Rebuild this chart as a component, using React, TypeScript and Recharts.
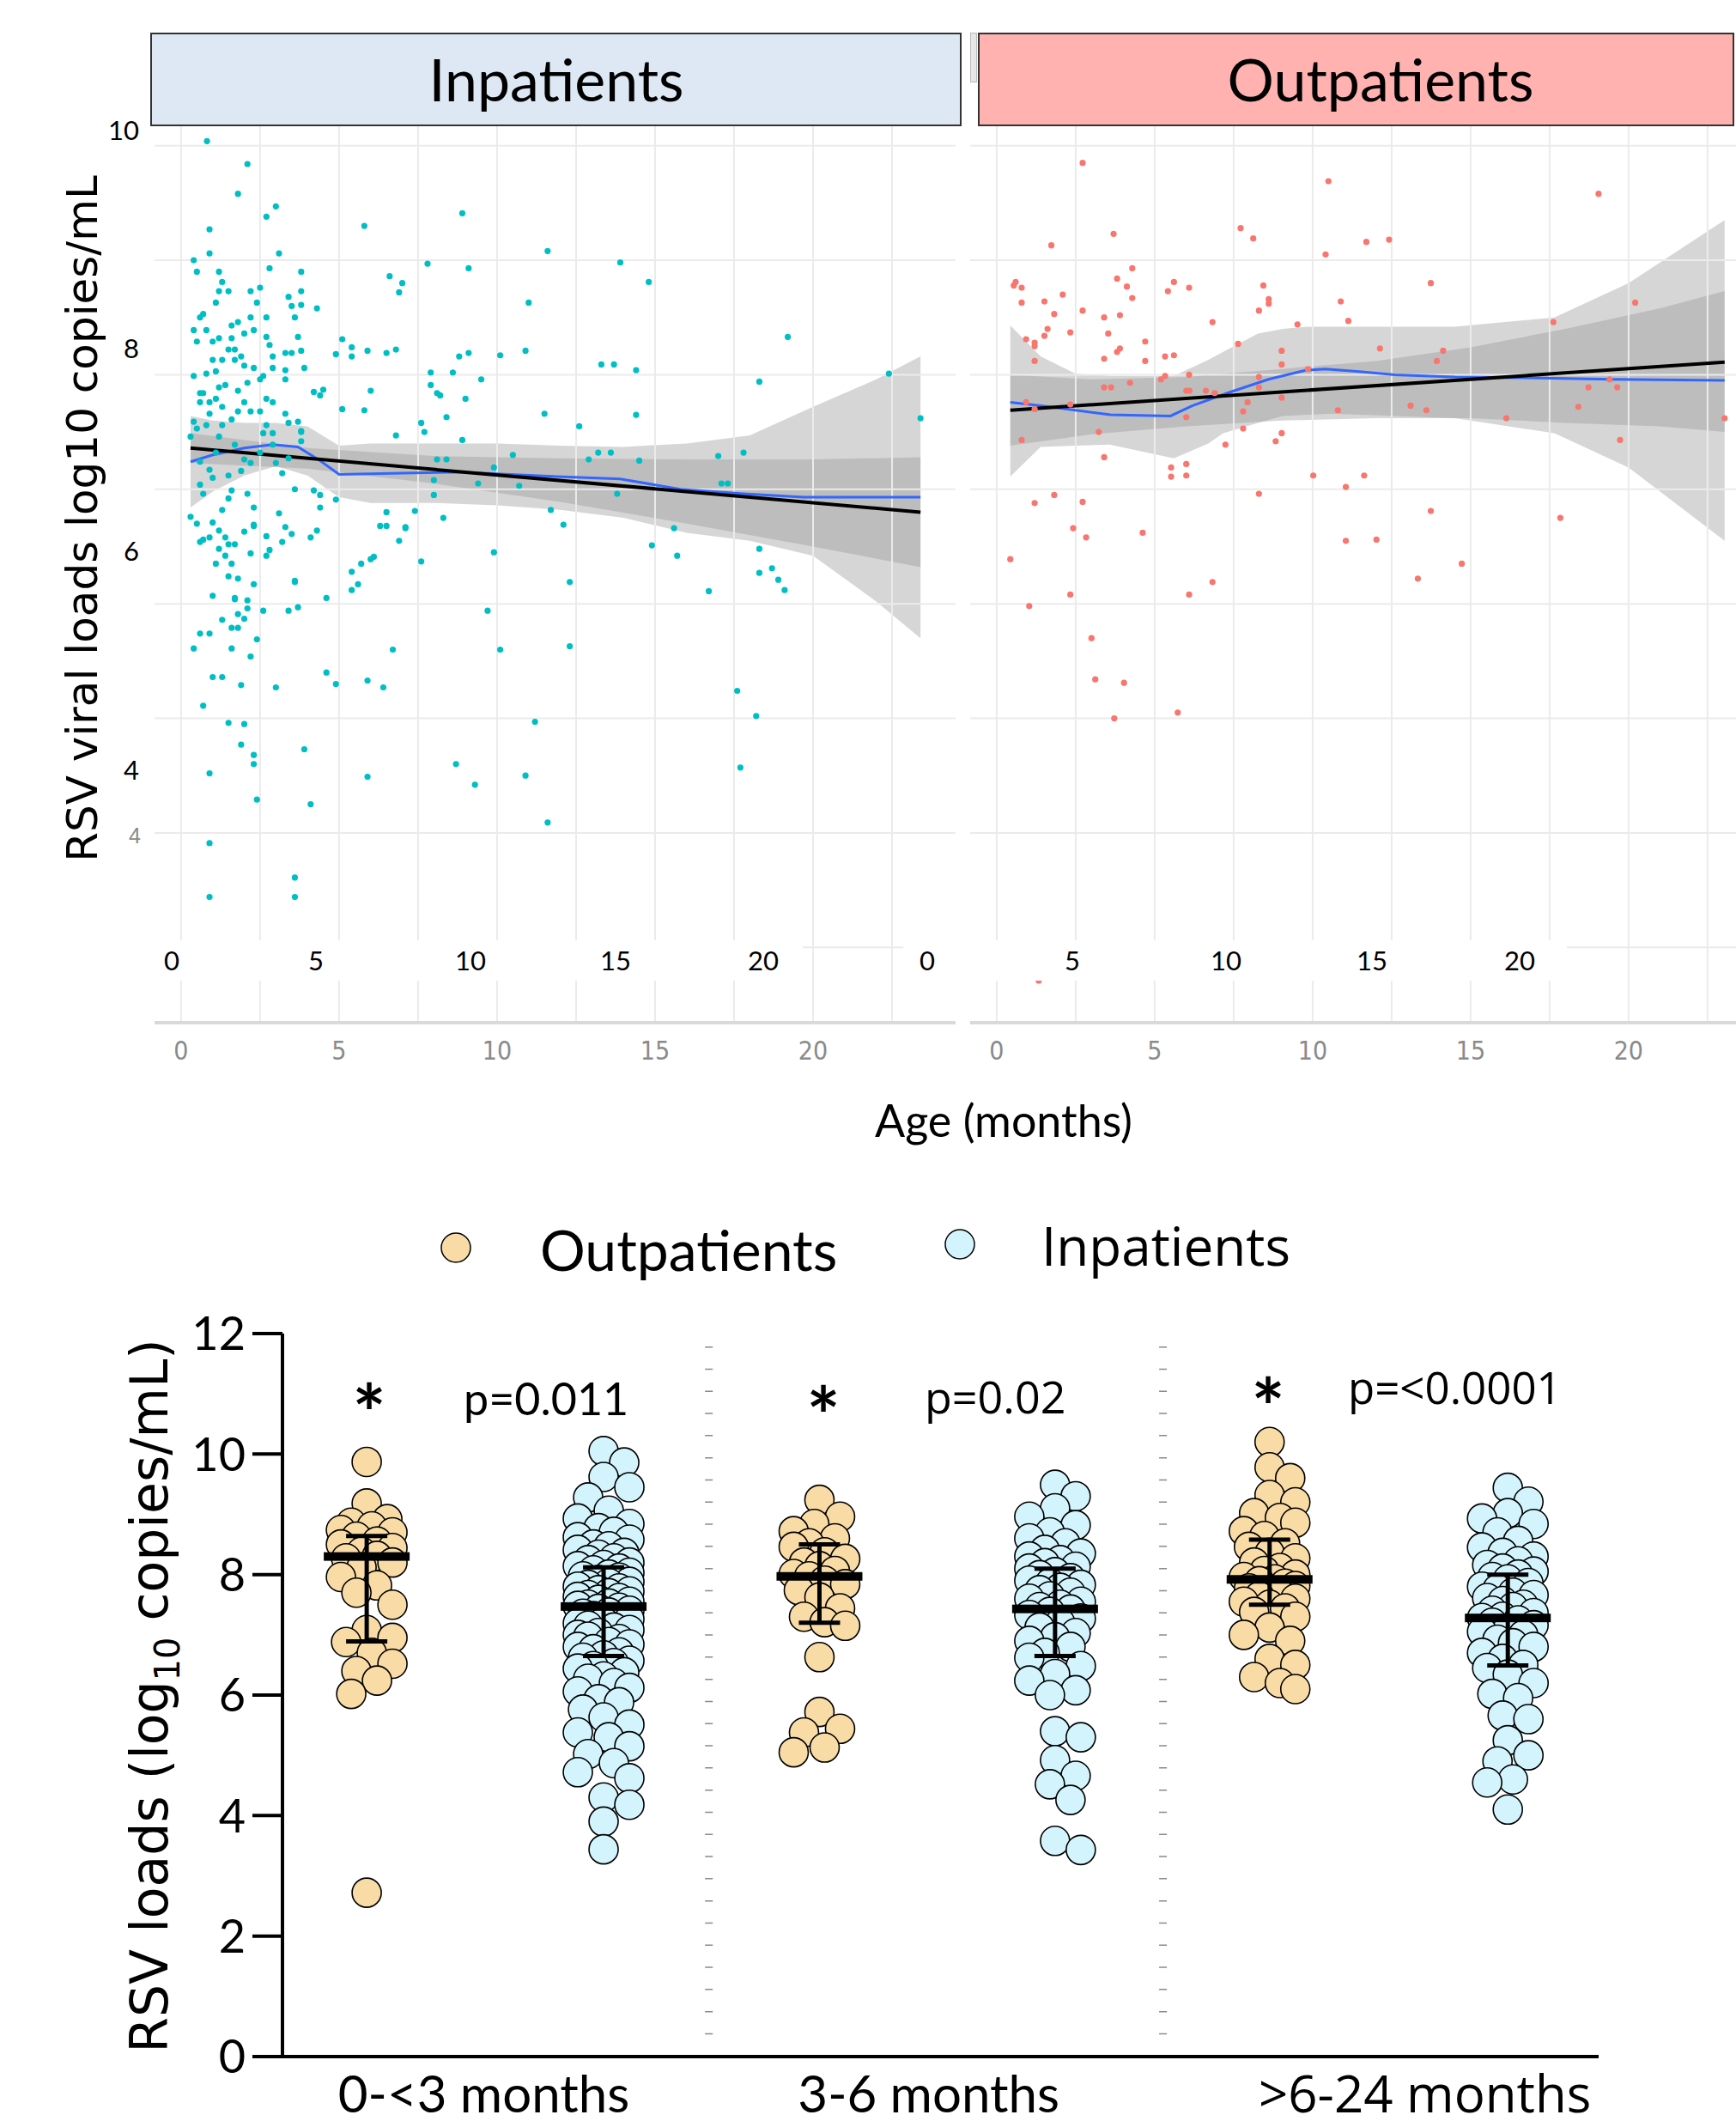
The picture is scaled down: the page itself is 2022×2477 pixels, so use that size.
import React from 'react';
import {
  ComposedChart,
  Scatter,
  Line,
  Area,
  XAxis,
  YAxis,
  ReferenceLine,
  ErrorBar,
} from 'recharts';

type Pt = [number, number];
type Band = [number, number, number];

// ---------- top panel: viral load vs age (months) ----------
const inpatientPoints: Pt[] = [
  [0.82, 10.04], [2.1, 9.84], [1.8, 9.58], [3.0, 9.47], [2.7, 9.38], [0.9, 9.27], [5.8, 9.3], [8.9, 9.41],
  [11.6, 9.08], [13.9, 8.98], [14.8, 8.81], [7.8, 8.97], [9.1, 8.93], [0.4, 9.0], [0.9, 9.06], [0.5, 8.9],
  [3.1, 9.06], [2.8, 8.93], [3.8, 8.9], [6.6, 8.86], [7.0, 8.8], [6.9, 8.72], [11.0, 8.63], [19.2, 8.33],
  [22.4, 8.01], [23.4, 7.62], [18.3, 7.94], [13.3, 8.09], [13.7, 8.09], [14.4, 8.04], [10.1, 8.17], [10.9, 8.21],
  [8.8, 8.16], [9.1, 8.19], [7.9, 8.02], [8.6, 8.02], [9.5, 7.96], [7.9, 7.91], [8.1, 7.84], [8.2, 7.82],
  [9.0, 7.79], [8.4, 7.63], [11.5, 7.66], [12.6, 7.55], [14.4, 7.65], [5.1, 8.31], [4.9, 8.18], [5.4, 8.24],
  [5.4, 8.16], [5.9, 8.21], [6.5, 8.19], [6.8, 8.22], [6.0, 7.86], [5.1, 7.7], [5.8, 7.69], [4.2, 7.85],
  [4.5, 7.87], [4.4, 7.82], [3.9, 8.06], [4.3, 8.58], [3.8, 8.73],
  [7.6, 7.58], [7.7, 7.5], [6.8, 7.47], [8.9, 7.43], [8.1, 7.26], [8.4, 7.26], [10.5, 7.3], [9.9, 7.19],
  [9.4, 7.05], [10.7, 7.03], [12.9, 7.26], [13.2, 7.32], [13.6, 7.32], [14.5, 7.25], [17.0, 7.29], [17.8, 7.32],
  [17.1, 7.05], [17.3, 7.05], [13.8, 6.96], [8.0, 7.08], [8.0, 6.95], [8.3, 6.75], [7.4, 6.81], [6.5, 6.8],
  [6.3, 6.68], [6.5, 6.68], [7.1, 6.66], [6.9, 6.55], [7.6, 6.37], [11.7, 6.82], [12.1, 6.69], [15.6, 6.66],
  [14.9, 6.51], [15.7, 6.42], [9.9, 6.45], [12.3, 6.19], [16.7, 6.11], [18.3, 6.48], [18.3, 6.27], [18.7, 6.31],
  [18.9, 6.21], [19.1, 6.12], [5.7, 6.35], [6.0, 6.39], [5.4, 6.28], [5.6, 6.17], [5.4, 6.12], [6.1, 6.41],
  [4.6, 6.05], [3.6, 6.19], [1.0, 6.07], [1.7, 6.05], [2.1, 6.03],
  [9.7, 5.94], [10.1, 5.6], [12.3, 5.63], [17.6, 5.24], [18.2, 5.02], [17.7, 4.57], [11.2, 4.97], [8.7, 4.6],
  [9.3, 4.42], [10.9, 4.5], [11.6, 4.09], [6.7, 5.6], [4.6, 5.4], [4.9, 5.3], [5.9, 5.33], [6.4, 5.27],
  [5.9, 4.49], [3.9, 4.73], [4.1, 4.25], [3.6, 3.61], [3.6, 3.44], [0.9, 3.91], [0.9, 3.44], [0.9, 4.52],
  [2.4, 4.29], [1.9, 4.77], [2.3, 4.68], [2.3, 4.6], [1.5, 4.96], [2.0, 4.95], [0.7, 5.11], [1.0, 5.36],
  [1.3, 5.36], [1.9, 5.29], [3.0, 5.27], [0.4, 5.61], [0.6, 5.74], [0.9, 5.74], [1.6, 5.61], [2.2, 5.54],
  [2.4, 5.69], [1.3, 5.86], [1.6, 5.79], [1.8, 5.79], [1.8, 5.91], [2.0, 5.87], [2.1, 5.96], [2.6, 5.94],
  [3.4, 5.94], [3.7, 5.97], [1.7, 6.04], [1.5, 6.24], [1.8, 6.22], [2.3, 6.17], [3.6, 6.2], [1.1, 6.35],
  [1.6, 6.35], [1.4, 6.42], [1.2, 6.48], [1.7, 6.52], [2.2, 6.44], [2.7, 6.42], [2.8, 6.47], [3.2, 6.54],
  [4.1, 6.58], [4.3, 6.64], [3.5, 6.61], [3.3, 6.67], [0.6, 6.54], [0.7, 6.56], [0.9, 6.58], [1.4, 6.58],
  [2.0, 6.63], [2.3, 6.68], [2.7, 6.59], [0.3, 6.76], [0.5, 6.7], [1.0, 6.71], [7.1, 6.67],
  [1.2, 6.64], [1.5, 6.52], [2.3, 6.69], [3.1, 6.79], [3.6, 7.0], [4.2, 6.99], [4.4, 6.95], [4.4, 6.84],
  [4.9, 6.91], [0.3, 7.46], [0.5, 7.53], [0.6, 7.24], [0.6, 7.04], [0.7, 6.96], [0.9, 7.17], [1.0, 7.1],
  [1.1, 7.32], [1.2, 7.46], [1.3, 7.56], [1.5, 7.12], [1.6, 6.99], [1.5, 6.92], [1.3, 6.82], [1.7, 7.39],
  [1.9, 7.16], [2.0, 7.26], [2.2, 7.23], [2.1, 6.96], [2.3, 6.84], [2.5, 7.32], [2.6, 7.49], [2.9, 7.39],
  [3.0, 7.23], [3.2, 7.14], [3.4, 7.27], [3.8, 7.51], [3.7, 7.59], [3.8, 7.42], [3.3, 7.66], [2.9, 7.76],
  [2.7, 7.79], [2.5, 7.68], [2.2, 7.68], [2.0, 7.76], [1.8, 7.68], [1.6, 7.61], [1.3, 7.72], [1.1, 7.79],
  [0.9, 7.76], [0.6, 7.76], [0.6, 7.84], [0.7, 7.84], [0.9, 7.66], [0.4, 7.59], [0.8, 7.56], [2.9, 7.49],
  [2.7, 7.56], [3.4, 7.58], [3.8, 7.5],
  [0.4, 7.99], [0.8, 8.01], [1.1, 8.03], [1.0, 8.13], [1.0, 8.29], [0.8, 8.39], [0.6, 8.5], [0.7, 8.53],
  [1.1, 8.63], [1.2, 8.73], [1.2, 8.9], [1.3, 8.81], [1.5, 8.73], [1.6, 8.43], [1.8, 8.46], [2.0, 8.36],
  [2.2, 8.5], [2.3, 8.39], [1.6, 8.32], [1.7, 8.22], [1.9, 8.16], [1.2, 8.32], [1.3, 8.13], [1.5, 8.22],
  [1.7, 8.13], [2.0, 8.08], [2.2, 8.73], [2.5, 8.76], [2.4, 8.63], [2.7, 8.5], [2.7, 8.33], [2.9, 8.16],
  [2.8, 8.26], [2.5, 7.96], [2.6, 7.99], [2.9, 8.06], [3.3, 8.04], [3.3, 8.19], [3.5, 8.19], [3.7, 8.33],
  [3.8, 8.21], [3.6, 8.5], [3.5, 8.6], [3.4, 8.68], [3.8, 8.61], [3.3, 7.96], [2.3, 8.06], [2.1, 7.93],
  [1.8, 7.86], [1.4, 7.91], [1.2, 7.89], [0.5, 8.29], [0.4, 8.39],
];

const outpatientPoints: Pt[] = [
  [2.72, 9.85], [10.5, 9.69], [19.05, 9.58], [7.72, 9.28], [8.12, 9.19], [3.7, 9.23], [1.73, 9.13], [10.41, 9.05],
  [11.7, 9.16], [12.42, 9.18], [4.29, 8.93], [0.54, 8.78], [0.6, 8.81], [0.79, 8.76], [0.79, 8.63], [1.51, 8.64],
  [2.09, 8.7], [1.82, 8.53], [3.81, 8.84], [4.12, 8.77], [4.29, 8.67], [2.72, 8.56], [3.4, 8.5], [3.9, 8.52],
  [5.61, 8.81], [5.42, 8.73], [6.09, 8.76], [8.44, 8.78], [8.61, 8.66], [8.61, 8.62], [8.3, 8.56], [6.83, 8.46],
  [9.52, 8.44], [10.89, 8.64], [11.13, 8.47], [13.74, 8.8], [20.21, 8.63], [17.62, 8.46], [0.93, 8.31], [1.2, 8.28],
  [1.2, 8.25], [1.61, 8.4], [1.51, 8.34], [2.33, 8.37], [3.53, 8.36], [4.7, 8.29], [1.2, 8.12], [3.4, 8.14],
  [3.81, 8.2], [3.9, 8.23], [4.7, 8.12], [5.33, 8.16], [5.61, 8.17], [7.64, 8.27], [9.02, 8.21], [9.02, 8.09],
  [12.13, 8.23], [14.13, 8.21], [13.93, 8.12], [5.2, 7.96], [5.33, 7.99], [6.09, 8.0], [3.4, 7.89], [3.62, 7.89],
  [4.22, 7.93], [6.0, 7.86], [6.1, 7.86], [6.62, 7.86], [6.9, 7.84], [8.3, 7.98], [8.3, 7.89], [9.02, 7.8],
  [9.85, 8.05], [0.93, 7.76], [1.2, 7.7], [2.33, 7.74], [6.0, 7.63], [7.94, 7.76], [7.8, 7.68], [7.8, 7.53],
  [9.02, 7.49], [8.83, 7.42], [7.24, 7.39], [10.8, 7.69], [13.1, 7.73], [13.6, 7.69], [16.13, 7.62], [18.41, 7.72],
  [18.73, 7.89], [19.4, 7.96], [19.64, 7.89], [23.04, 7.62], [19.73, 7.43], [0.79, 7.43], [3.23, 7.5], [3.4, 7.28],
  [5.52, 7.19], [5.52, 7.11], [6.0, 7.22], [6.0, 7.12], [10.02, 7.12], [11.63, 7.12], [11.05, 7.02], [8.3, 6.96],
  [1.2, 6.88], [1.82, 6.95], [2.72, 6.89], [13.74, 6.81], [17.84, 6.75], [2.42, 6.66], [2.83, 6.58], [4.62, 6.62],
  [11.05, 6.55], [12.02, 6.56], [0.43, 6.39], [14.72, 6.35], [6.83, 6.19], [13.33, 6.22], [2.33, 6.08], [6.09, 6.08],
  [1.03, 5.98], [3.0, 5.7], [3.12, 5.34], [4.03, 5.31], [3.72, 5.0], [5.73, 5.05], [1.33, 2.71],
];

const inpatientLinear: Pt[] = [[0.3, 7.36], [23.4, 6.8]];
const inpatientLoess: Pt[] = [
  [0.3, 7.24], [1.0, 7.3], [2.0, 7.36], [2.9, 7.39], [3.7, 7.37], [4.4, 7.25], [5.0, 7.13], [7.0, 7.14],
  [8.8, 7.15], [11.9, 7.11], [13.9, 7.09], [15.8, 7.0], [17.8, 6.96], [19.7, 6.93], [23.4, 6.93],
];
const inpatientLinearBand: Band[] = [
  [0.3, 7.23, 7.49], [4, 7.18, 7.36], [8, 7.05, 7.29], [12, 6.89, 7.27], [16, 6.7, 7.26], [20, 6.5, 7.26], [23.4, 6.32, 7.28],
];
const inpatientLoessBand: Band[] = [
  [0.3, 6.84, 7.64], [1, 6.98, 7.6], [2, 7.12, 7.58], [3, 7.2, 7.58], [4, 7.12, 7.55], [5, 6.93, 7.38],
  [6, 6.88, 7.4], [8, 6.88, 7.4], [10, 6.86, 7.4], [12, 6.82, 7.38], [14, 6.75, 7.37], [16, 6.62, 7.4],
  [18, 6.55, 7.47], [20, 6.42, 7.72], [22, 6.02, 7.96], [23.4, 5.7, 8.16],
];

const outpatientLinear: Pt[] = [[0.43, 7.69], [23.04, 8.11]];
const outpatientLoess: Pt[] = [
  [0.43, 7.76], [1.4, 7.73], [2.5, 7.69], [3.6, 7.65], [5.5, 7.64], [6.2, 7.73], [7.3, 7.84], [8.6, 7.96],
  [9.8, 8.04], [10.4, 8.05], [11.4, 8.03], [12.6, 8.0], [14.5, 7.98], [17.6, 7.97], [19.5, 7.96], [23.04, 7.95],
];
const outpatientLinearBand: Band[] = [
  [0.43, 7.38, 8.0], [3, 7.48, 7.96], [6, 7.55, 7.98], [9, 7.6, 8.05], [12, 7.62, 8.12], [15, 7.62, 8.24],
  [18, 7.58, 8.4], [21, 7.55, 8.58], [23.04, 7.5, 8.73],
];
const outpatientLoessBand: Band[] = [
  [0.43, 7.11, 8.43], [1.39, 7.37, 8.16], [2.48, 7.38, 8.01], [3.58, 7.39, 7.99], [5.61, 7.27, 7.99],
  [6.7, 7.4, 8.13], [7.17, 7.49, 8.2], [8.27, 7.58, 8.36], [9.05, 7.64, 8.4], [9.83, 7.65, 8.42],
  [10.6, 7.66, 8.42], [14.5, 7.62, 8.42], [17.65, 7.49, 8.5], [20.0, 7.19, 8.8], [23.04, 6.55, 9.35],
];

const ageTicks = [0, 5, 10, 15, 20];
const gridX = [0, 2.5, 5, 7.5, 10, 12.5, 15, 17.5, 20, 22.5];
const gridY = [3, 4, 5, 6, 7, 8, 9, 10];

// ---------- bottom panel: loads by age group ----------
const groupNames = ['0-<3 months', '3-6 months', '>6-24 months'];
const groupFonts = ['Lato', 'Lato', '"Open Sans"'];
const groupLabelPos = [15.3, 49.1, 86.8];
const separatorPos = [32.4, 66.9];

const out1Loads = [9.87, 9.18, 8.92, 8.86, 8.8, 8.74, 8.7, 8.63, 8.55, 8.5, 8.44, 8.38, 8.31, 8.27, 8.2, 8.12, 7.96, 7.82, 7.7, 7.5, 7.08, 6.95, 6.88, 6.7, 6.52, 6.4, 6.24, 6.02, 2.72];
const in1Loads = [
  10.05, 9.86, 9.62, 9.45, 9.28, 9.06, 8.93, 8.84, 8.77, 8.71, 8.62, 8.58, 8.5, 8.47, 8.41, 8.36, 8.33, 8.27,
  8.24, 8.2, 8.16, 8.14, 8.1, 8.07, 8.03, 8.0, 7.97, 7.95, 7.91, 7.88, 7.86, 7.83, 7.8, 7.77, 7.74, 7.72, 7.69,
  7.66, 7.63, 7.61, 7.58, 7.55, 7.52, 7.5, 7.48, 7.45, 7.43, 7.4, 7.37, 7.35, 7.31, 7.28, 7.26, 7.22, 7.19, 7.15,
  7.12, 7.08, 7.03, 7.0, 6.97, 6.93, 6.88, 6.84, 6.8, 6.76, 6.71, 6.66, 6.62, 6.57, 6.53, 6.48, 6.44, 6.38, 6.31,
  6.27, 6.2, 6.12, 6.06, 5.93, 5.88, 5.76, 5.63, 5.51, 5.38, 5.3, 5.15, 5.02, 4.87, 4.72, 4.62, 4.3, 4.18, 3.9, 3.44,
];
const out2Loads = [9.24, 8.96, 8.84, 8.72, 8.6, 8.52, 8.46, 8.37, 8.26, 8.2, 8.14, 8.06, 8.01, 7.97, 7.9, 7.84, 7.74, 7.62, 7.44, 7.3, 7.21, 7.15, 6.63, 5.72, 5.44, 5.38, 5.13, 5.05];
const in2Loads = [
  9.49, 9.3, 9.1, 8.96, 8.82, 8.7, 8.6, 8.52, 8.41, 8.35, 8.3, 8.24, 8.19, 8.13, 8.1, 8.04, 7.99, 7.94, 7.9, 7.86,
  7.83, 7.78, 7.74, 7.7, 7.64, 7.6, 7.55, 7.5, 7.46, 7.42, 7.38, 7.33, 7.27, 7.2, 7.12, 7.03, 6.96, 6.9, 6.8, 6.7,
  6.62, 6.48, 6.35, 6.24, 6.08, 6.0, 5.4, 5.3, 4.92, 4.66, 4.52, 4.26, 3.58, 3.43,
];
const out3Loads = [10.2, 9.78, 9.6, 9.32, 9.2, 9.02, 8.94, 8.86, 8.72, 8.64, 8.52, 8.46, 8.36, 8.27, 8.2, 8.11, 8.06, 8.0, 7.96, 7.92, 7.89, 7.85, 7.81, 7.77, 7.72, 7.68, 7.64, 7.6, 7.55, 7.5, 7.44, 7.38, 7.3, 7.12, 7.0, 6.9, 6.6, 6.5, 6.3, 6.2, 6.1];
const in3Loads = [
  9.44, 9.21, 9.02, 8.93, 8.84, 8.7, 8.56, 8.45, 8.36, 8.3, 8.22, 8.16, 8.1, 8.05, 8.0, 7.96, 7.92, 7.86, 7.8, 7.76,
  7.7, 7.66, 7.61, 7.56, 7.5, 7.46, 7.4, 7.36, 7.3, 7.28, 7.24, 7.2, 7.16, 7.1, 7.05, 7.0, 6.92, 6.86, 6.8, 6.7, 6.6,
  6.5, 6.45, 6.34, 6.2, 6.02, 5.95, 5.66, 5.6, 5.25, 5.0, 4.9, 4.6, 4.55, 4.1,
];

const columnPos = [6.4, 24.4, 40.8, 58.7, 75.0, 93.1];
const columnLoads = [out1Loads, in1Loads, out2Loads, in2Loads, out3Loads, in3Loads];
const columnIsOut = [true, false, true, false, true, false];
const medians = [8.3, 7.47, 7.97, 7.43, 7.92, 7.28];
const q1s = [6.89, 6.65, 7.2, 6.65, 7.5, 6.49];
const q3s = [8.64, 8.12, 8.5, 8.1, 8.58, 8.0];

const OUT_FILL = '#f9dba6';
const IN_FILL = '#d3f4fd';
const FONT = 'Lato, "Open Sans", sans-serif';

// pixel size of one axis unit in the bottom chart (plot is 1533 x 842 px)
const PX_PER_X = 1533 / 100;
const PX_PER_Y = 842 / 12;

// simple beeswarm: keep circles packed around the column centre
function swarm(values: number[], center: number) {
  const slots = [0, 6, -6, 12, -12, 18, -18, 24, -24, 30, -30];
  const placed: { dx: number; py: number }[] = [];
  return [...values]
    .sort((a, b) => b - a)
    .map((v) => {
      const py = v * PX_PER_Y;
      let best = 0;
      let bestDist = -1;
      for (const s of slots) {
        let d = Infinity;
        for (const p of placed) d = Math.min(d, Math.hypot(p.dx - s, p.py - py));
        if (d >= 27) {
          best = s;
          break;
        }
        if (d > bestDist) {
          bestDist = d;
          best = s;
        }
      }
      placed.push({ dx: best, py });
      return { x: center + best / PX_PER_X, y: v };
    });
}

const toXY = (pts: Pt[]) => pts.map(([x, y]) => ({ x, y }));
const toBand = (rows: Band[]) => rows.map(([x, lo, hi]) => ({ x, ci: [lo, hi] }));

type FacetProps = {
  points: Pt[];
  color: string;
  linear: Pt[];
  loess: Pt[];
  linearBand: Band[];
  loessBand: Band[];
  xMax: number;
  width: number;
  left: number;
  right: number;
};

const Facet: React.FC<FacetProps> = ({ points, color, linear, loess, linearBand, loessBand, xMax, width, left, right }) => (
  <ComposedChart width={width} height={1251} margin={{ top: 147, right, left, bottom: 0 }}>
    <XAxis
      dataKey='x'
      type='number'
      domain={[-0.84, xMax]}
      allowDataOverflow
      ticks={ageTicks}
      interval={0}
      height={60}
      tickSize={0}
      tickMargin={22}
      tickLine={false}
      axisLine={{ stroke: '#d9d9d9', strokeWidth: 4 }}
      tick={{ fill: '#8a8a8a', fontSize: 30, fontFamily: '"Liberation Sans Narrow", "DejaVu Sans Condensed", sans-serif' }}
    />
    <YAxis dataKey='y' type='number' domain={[2.342, 10.17]} allowDataOverflow hide />
    {gridY.map((v) => (
      <ReferenceLine key={'h' + v} y={v} stroke='#ebebeb' strokeWidth={2} />
    ))}
    {gridX.map((v) => (
      <ReferenceLine key={'v' + v} x={v} stroke='#ebebeb' strokeWidth={2} />
    ))}
    <Area data={toBand(loessBand)} dataKey='ci' type='linear' stroke='none' fill='#999999' fillOpacity={0.4} isAnimationActive={false} />
    <Area data={toBand(linearBand)} dataKey='ci' type='linear' stroke='none' fill='#999999' fillOpacity={0.4} isAnimationActive={false} />
    <Scatter
      data={toXY(points)}
      isAnimationActive={false}
      shape={(p: any) => <circle cx={p.cx} cy={p.cy} r={3.6} fill={color} />}
    />
    <Line data={toXY(loess)} dataKey='y' type='linear' stroke='#3366ff' strokeWidth={3} dot={false} isAnimationActive={false} />
    <Line data={toXY(linear)} dataKey='y' type='linear' stroke='#000' strokeWidth={4} dot={false} isAnimationActive={false} />
  </ComposedChart>
);

const GroupTick = (props: any) => {
  const { x, y, payload } = props;
  const i = groupLabelPos.indexOf(payload.value);
  return (
    <text x={x} y={y} dy='0.71em' textAnchor='middle' fontSize={60} fontFamily={groupFonts[i]} fill='#000'>
      {groupNames[i]}
    </text>
  );
};

const summary = columnPos.map((x, i) => ({
  x,
  y: medians[i],
  err: [medians[i] - q1s[i], q3s[i] - medians[i]],
}));

const abs = (l: number, t: number, w: number, h: number): React.CSSProperties => ({
  position: 'absolute',
  left: l,
  top: t,
  width: w,
  height: h,
});

const topYLabels = [
  { t: '10', y: 152 },
  { t: '8', y: 406 },
  { t: '6', y: 642 },
  { t: '4', y: 897 },
];
const inpBandLabels = [
  { t: '0', x: 200 }, { t: '5', x: 368 }, { t: '10', x: 548 }, { t: '15', x: 717 }, { t: '20', x: 889 }, { t: '0', x: 1080 },
];
const outBandLabels = [
  { t: '5', x: 1249 }, { t: '10', x: 1428 }, { t: '15', x: 1598 }, { t: '20', x: 1770 },
];

const DOT_MARGIN = { top: 153, right: 160, left: 0, bottom: 0 };

export default function App() {
  return (
    <div style={{ ...abs(0, 0, 2022, 2477), background: '#fff', overflow: 'hidden', fontFamily: FONT }}>
      {/* facet panels */}
      <div style={abs(0, 0, 1120, 1251)}>
        <Facet
          points={inpatientPoints}
          color='#00bfc4'
          linear={inpatientLinear}
          loess={inpatientLoess}
          linearBand={inpatientLinearBand}
          loessBand={inpatientLoessBand}
          xMax={24.51}
          width={1120}
          left={180}
          right={7}
        />
      </div>
      <div style={abs(1120, 0, 902, 1251)}>
        <Facet
          points={outpatientPoints}
          color='#f8766d'
          linear={outpatientLinear}
          loess={outpatientLoess}
          linearBand={outpatientLinearBand}
          loessBand={outpatientLoessBand}
          xMax={23.4}
          width={902}
          left={10}
          right={0}
        />
      </div>

      {/* white strips carrying the pasted black age labels */}
      <div style={{ ...abs(180, 1095, 755, 47), background: '#fff' }} />
      <div style={{ ...abs(1052, 1095, 62, 47), background: '#fff' }} />
      <div style={{ ...abs(1130, 1095, 695, 47), background: '#fff' }} />

      {/* facet strips */}
      <div style={{ ...abs(175, 38, 945, 109), boxSizing: 'border-box', background: '#dde8f4', border: '2px solid #333' }} />
      <div style={{ ...abs(1130, 38, 8, 58), boxSizing: 'border-box', background: '#e6e6e6', border: '1px solid #bbb' }} />
      <div style={{ ...abs(1139, 38, 881, 109), boxSizing: 'border-box', background: '#ffb2b0', border: '2px solid #333' }} />

      <svg style={{ ...abs(0, 0, 2022, 2477), pointerEvents: 'none' }} width={2022} height={2477}>
        <text x={648} y={118} textAnchor='middle' fontSize={68} fontFamily='Lato'>Inpatients</text>
        <text x={1608} y={118} textAnchor='middle' fontSize={68} fontFamily='Lato'>Outpatients</text>

        {topYLabels.map((d) => (
          <text key={d.y} x={162} y={d.y + 11} textAnchor='end' fontSize={31} fontFamily='Lato'>{d.t}</text>
        ))}
        <text x={164} y={982} textAnchor='end' fontSize={25} fill='#8a8a8a' fontFamily='"Liberation Sans Narrow", sans-serif'>4</text>

        {[...inpBandLabels, ...outBandLabels].map((d, i) => (
          <text key={i} x={d.x} y={1130} textAnchor='middle' fontSize={31} fontFamily='Lato'>{d.t}</text>
        ))}

        <text x={1169} y={1324} textAnchor='middle' fontSize={52} fontFamily='Lato'>Age (months)</text>

        <text
          transform='translate(113,604) rotate(-90)'
          textAnchor='middle'
          fontSize={50}
          fontFamily='"DejaVu Sans", sans-serif'
        >
          RSV viral loads log10 copies/mL
        </text>

        {/* legend */}
        <circle cx={531} cy={1453} r={17} fill={OUT_FILL} stroke='#000' strokeWidth={1.5} />
        <text x={629} y={1480} fontSize={66} fontFamily='Lato'>Outpatients</text>
        <circle cx={1118} cy={1449} r={17} fill={IN_FILL} stroke='#000' strokeWidth={1.5} />
        <text x={1213} y={1474} fontSize={62} fontFamily='"Open Sans"'>Inpatients</text>

        <text
          transform='translate(195,1975) rotate(-90)'
          textAnchor='middle'
          fontSize={60}
          fontFamily='"DejaVu Sans", sans-serif'
        >
          RSV loads (log<tspan fontSize={40} dy={14}>10</tspan>
          <tspan dy={-14}> copies/mL)</tspan>
        </text>

        {/* significance marks */}
        <text x={430} y={1680} textAnchor='middle' fontSize={92} fontWeight={700} fontFamily='Lato'>*</text>
        <text x={540} y={1648} fontSize={52} fontFamily='Lato'>p=0.011</text>
        <text x={959} y={1683} textAnchor='middle' fontSize={92} fontWeight={700} fontFamily='Lato'>*</text>
        <text x={1077} y={1646} fontSize={52} fontFamily='"Open Sans"'>p=0.02</text>
        <text x={1477} y={1673} textAnchor='middle' fontSize={92} fontWeight={700} fontFamily='Lato'>*</text>
        <text x={1570} y={1635} fontSize={51} fontFamily='"Open Sans"'>p=&lt;0.0001</text>
      </svg>

      {/* dot plot */}
      <div style={abs(0, 1400, 2022, 1077)}>
        <ComposedChart width={2022} height={1077} margin={DOT_MARGIN}>
          <XAxis
            dataKey='x'
            type='number'
            domain={[0, 100]}
            ticks={groupLabelPos}
            interval={0}
            height={82}
            tickSize={0}
            tickMargin={22}
            tickLine={false}
            axisLine={{ stroke: '#000', strokeWidth: 4 }}
            tick={<GroupTick />}
          />
          <YAxis
            dataKey='y'
            type='number'
            domain={[0, 12]}
            ticks={[0, 2, 4, 6, 8, 10, 12]}
            interval={0}
            width={329}
            tickSize={35}
            tickMargin={8}
            axisLine={{ stroke: '#000', strokeWidth: 4 }}
            tickLine={{ stroke: '#000', strokeWidth: 4 }}
            tick={{ fill: '#000', fontSize: 54, fontFamily: 'Lato' }}
          />
          {separatorPos.map((x) => (
            <ReferenceLine key={x} x={x} stroke='#8a8a8a' strokeWidth={9} strokeDasharray='1.5 24.3' />
          ))}
          {columnLoads.map((vals, i) => (
            <Scatter
              key={i}
              data={swarm(vals, columnPos[i])}
              isAnimationActive={false}
              shape={(p: any) => (
                <circle cx={p.cx} cy={p.cy} r={17} fill={columnIsOut[i] ? OUT_FILL : IN_FILL} stroke='#000' strokeWidth={1.6} />
              )}
            />
          ))}
        </ComposedChart>
      </div>

      {/* median + IQR drawn in an identical, transparent chart stacked on top so it sits above the dots */}
      <div style={abs(0, 1400, 2022, 1077)}>
        <ComposedChart width={2022} height={1077} margin={DOT_MARGIN}>
          <XAxis dataKey='x' type='number' domain={[0, 100]} height={82} tick={false} tickLine={false} axisLine={false} />
          <YAxis dataKey='y' type='number' domain={[0, 12]} width={329} tick={false} tickLine={false} axisLine={false} />
          <Scatter
            data={summary}
            isAnimationActive={false}
            shape={(p: any) => <rect x={p.cx - 50} y={p.cy - 5} width={100} height={10} fill='#000' />}
          >
            <ErrorBar dataKey='err' direction='y' width={24} strokeWidth={5} stroke='#000' />
          </Scatter>
        </ComposedChart>
      </div>
    </div>
  );
}
